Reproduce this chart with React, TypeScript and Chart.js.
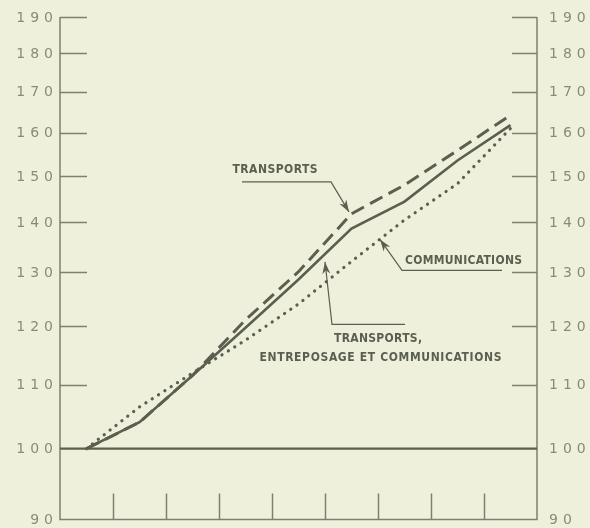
import React, { useEffect, useRef } from "react";
import { Chart, registerables } from "chart.js";

Chart.register(...registerables);

// ---- data ----
const periods = [0.5, 1.5, 2.5, 3.5, 4.5, 5.5, 6.5, 7.5, 8.5];
const xTickPositions = [1, 2, 3, 4, 5, 6, 7, 8];
const yTickValues = [90, 100, 110, 120, 130, 140, 150, 160, 170, 180, 190];
const yTickLabels = yTickValues.map((v) => String(v));

const transports = [100, 104, 111.5, 121.1, 130.1, 141.8, 148, 155.8, 164.2];
const transportsEntreposageComm = [100, 104, 111.5, 119.7, 128.6, 138.7, 144.4, 153.5, 161.8];
const communications = [100, 106.4, 111.9, 117.5, 124, 132.1, 140.5, 148.3, 161];

// annotation labels (positions in data units: x = period, y = index value)
const labelTexts = ["TRANSPORTS", "COMMUNICATIONS", "TRANSPORTS,", "ENTREPOSAGE ET COMMUNICATIONS"];
const labelX = [4.057, 7.613, 6.0, 6.047];
const labelY = [151.3, 132.3, 117.8, 114.5];
const labelWidths = [85, 117, 88, 242];

// leader lines, last point = arrow tip (data units)
const leaderTransports = [[3.434, 148.7], [5.113, 148.7], [5.453, 142.2]];
const leaderCommunications = [[8.34, 130.35], [6.453, 130.35], [6.038, 136.5]];
const leaderTotal = [[6.509, 120.3], [5.132, 120.3], [5.0, 132.0]];
const leaders = [leaderTransports, leaderCommunications, leaderTotal];

const BG = "#eff0dc";
const INK = "#5a5f4f";
const FRAME = "#7b8070";
const TICKTXT = "#878c79";

function spacedText(ctx: CanvasRenderingContext2D, text: string, x: number, y: number, spacing: number, align: "left" | "right" | "center") {
  const anyCtx = ctx as any;
  anyCtx.letterSpacing = "0px";
  const w0 = ctx.measureText(text).width;
  const total = w0 + spacing * (text.length - 1);
  let left = x;
  if (align === "right") left = x - total;
  else if (align === "center") left = x - total / 2;
  ctx.textAlign = "left";
  anyCtx.letterSpacing = spacing + "px";
  ctx.fillText(text, left, y);
  anyCtx.letterSpacing = "0px";
}

const framePlugin = {
  id: "framePlugin",
  beforeDraw(chart: any) {
    const { ctx, width, height } = chart;
    ctx.save();
    ctx.fillStyle = BG;
    ctx.fillRect(0, 0, width, height);
    ctx.restore();
  },
  beforeDatasetsDraw(chart: any) {
    const { ctx, chartArea } = chart;
    const xs = chart.scales.x;
    const ys = chart.scales.y;
    const { left, right, top, bottom } = chartArea;
    ctx.save();
    ctx.strokeStyle = FRAME;
    ctx.lineWidth = 1.5;
    ctx.beginPath();
    ctx.moveTo(left, top);
    ctx.lineTo(left, bottom);
    ctx.lineTo(right, bottom);
    ctx.lineTo(right, top);
    ctx.stroke();

    // inner y ticks
    yTickValues.forEach((v) => {
      if (v === 90 || v === 100) return;
      const y = Math.round(ys.getPixelForValue(v)) + 0.5;
      ctx.beginPath();
      ctx.moveTo(left, y);
      ctx.lineTo(left + 27, y);
      ctx.moveTo(right - 25, y);
      ctx.lineTo(right, y);
      ctx.stroke();
    });

    // x ticks
    xTickPositions.forEach((p) => {
      const x = Math.round(xs.getPixelForValue(p)) + 0.5;
      ctx.beginPath();
      ctx.moveTo(x, bottom);
      ctx.lineTo(x, bottom - 26);
      ctx.stroke();
    });

    // 100 base line
    const y100 = ys.getPixelForValue(100);
    ctx.strokeStyle = INK;
    ctx.lineWidth = 2.2;
    ctx.beginPath();
    ctx.moveTo(left, y100);
    ctx.lineTo(right, y100);
    ctx.stroke();

    // tick labels
    ctx.fillStyle = TICKTXT;
    ctx.font = "14px 'DejaVu Sans'";
    ctx.textBaseline = "middle";
    yTickValues.forEach((v, i) => {
      const y = ys.getPixelForValue(v) + 1;
      spacedText(ctx, yTickLabels[i], left - 7, y, 5, "right");
      spacedText(ctx, yTickLabels[i], right + 12, y, 5, "left");
    });
    ctx.restore();
  },
  afterDatasetsDraw(chart: any) {
    const { ctx } = chart;
    const xs = chart.scales.x;
    const ys = chart.scales.y;
    ctx.save();
    ctx.fillStyle = INK;
    ctx.strokeStyle = INK;
    ctx.font = "bold 12px 'DejaVu Sans Condensed', 'DejaVu Sans'";
    ctx.textBaseline = "middle";
    labelTexts.forEach((t, i) => {
      const cx = xs.getPixelForValue(labelX[i]);
      const cy = ys.getPixelForValue(labelY[i]);
      (ctx as any).letterSpacing = "0px";
      const w0 = ctx.measureText(t).width;
      const sp = Math.max(0, (labelWidths[i] - w0) / (t.length - 1));
      spacedText(ctx, t, cx, cy, sp, "center");
    });

    ctx.lineWidth = 1.2;
    leaders.forEach((pts) => {
      const p = pts.map(([a, b]) => [xs.getPixelForValue(a), ys.getPixelForValue(b)]);
      ctx.beginPath();
      ctx.moveTo(p[0][0], p[0][1]);
      for (let k = 1; k < p.length; k++) ctx.lineTo(p[k][0], p[k][1]);
      ctx.stroke();
      const [tx, ty] = p[p.length - 1];
      const [fx, fy] = p[p.length - 2];
      const ang = Math.atan2(ty - fy, tx - fx);
      const len = 12;
      const hw = 4;
      const bx = tx - Math.cos(ang) * len;
      const by = ty - Math.sin(ang) * len;
      ctx.beginPath();
      ctx.moveTo(tx, ty);
      ctx.lineTo(bx + Math.sin(ang) * hw, by - Math.cos(ang) * hw);
      ctx.lineTo(tx - Math.cos(ang) * len * 0.7, ty - Math.sin(ang) * len * 0.7);
      ctx.lineTo(bx - Math.sin(ang) * hw, by + Math.cos(ang) * hw);
      ctx.closePath();
      ctx.fill();
    });
    ctx.restore();
  },
};

export default function App() {
  const canvasRef = useRef<HTMLCanvasElement | null>(null);

  useEffect(() => {
    if (!canvasRef.current) return;
    const toPts = (arr: number[]) => periods.map((p, i) => ({ x: p, y: arr[i] }));
    const chart = new Chart(canvasRef.current, {
      type: "line",
      data: {
        datasets: [
          {
            label: "Communications",
            data: toPts(communications),
            borderColor: INK,
            borderWidth: 3.2,
            borderDash: [0.1, 7.4],
            borderCapStyle: "round",
            pointRadius: 0,
            fill: false,
            tension: 0,
          },
          {
            label: "Transports, entreposage et communications",
            data: toPts(transportsEntreposageComm),
            borderColor: INK,
            borderWidth: 2.6,
            pointRadius: 0,
            fill: false,
            tension: 0,
          },
          {
            label: "Transports",
            data: toPts(transports),
            borderColor: INK,
            borderWidth: 3,
            borderDash: [14, 7],
            pointRadius: 0,
            fill: false,
            tension: 0,
          },
        ],
      },
      options: {
        responsive: false,
        maintainAspectRatio: false,
        animation: false,
        devicePixelRatio: 1,
        layout: { padding: { left: 60, right: 53, top: 17, bottom: 8.5 } },
        plugins: { legend: { display: false }, tooltip: { enabled: false } },
        scales: {
          x: { type: "linear", min: 0, max: 9, display: false },
          y: { type: "logarithmic", min: 90, max: 190, display: false },
        },
      },
      plugins: [framePlugin],
    } as any);
    return () => chart.destroy();
  }, []);

  return (
    <div style={{ position: "fixed", left: 0, top: 0, width: 590, height: 528, background: BG }}>
      <canvas ref={canvasRef} width={590} height={528} style={{ display: "block" }} />
    </div>
  );
}
